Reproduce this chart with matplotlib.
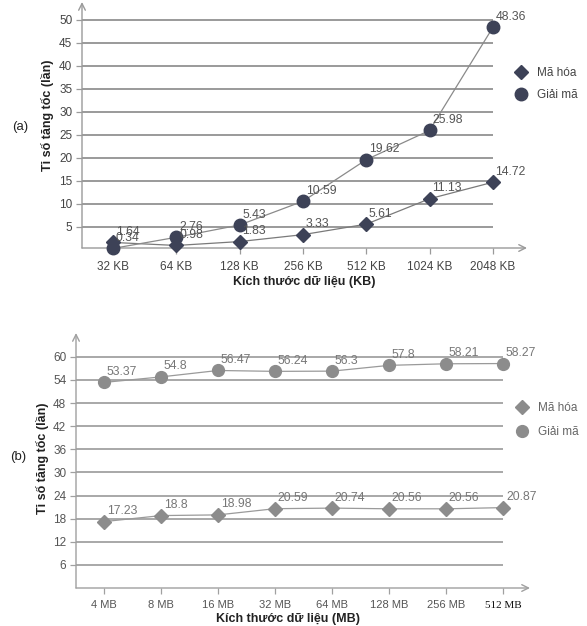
import matplotlib
matplotlib.use("Agg")
import matplotlib.pyplot as plt
from matplotlib.lines import Line2D

# ---------------- data ----------------
cats_a = ["32 KB", "64 KB", "128 KB", "256 KB", "512 KB", "1024 KB", "2048 KB"]
enc_a = [1.64, 0.98, 1.83, 3.33, 5.61, 11.13, 14.72]
dec_a = [0.34, 2.76, 5.43, 10.59, 19.62, 25.98, 48.36]
yt_a = [5, 10, 15, 20, 25, 30, 35, 40, 45, 50]

cats_b = ["4 MB", "8 MB", "16 MB", "32 MB", "64 MB", "128 MB", "256 MB", "512 MB"]
enc_b = [17.23, 18.8, 18.98, 20.59, 20.74, 20.56, 20.56, 20.87]
dec_b = [53.37, 54.8, 56.47, 56.24, 56.3, 57.8, 58.21, 58.27]
yt_b = [6, 12, 18, 24, 30, 36, 42, 48, 54, 60]

ylabel = "Tỉ số tăng tốc (lần)"
xlabel_a = "Kích thước dữ liệu (KB)"
xlabel_b = "Kích thước dữ liệu (MB)"
leg_enc = "Mã hóa"
leg_dec = "Giải mã"

# ---------------- style ----------------
plt.rcParams['font.family'] = ['Liberation Sans', 'DejaVu Sans']
W, H = 587, 626
fig = plt.figure(figsize=(W / 100, H / 100), dpi=100)


def px_axes(left, top, right, bottom):
    return fig.add_axes([left / W, 1 - bottom / H, (right - left) / W, (bottom - top) / H])


def style_axes(ax, cats, yticks, xlim, ylim, grid_col, axis_col, tick_col, xpad, xsize):
    ax.set_xlim(*xlim)
    ax.set_ylim(*ylim)
    for s in ax.spines.values():
        s.set_visible(False)
    ax.patch.set_alpha(0)
    n = len(cats)
    ax.hlines(yticks, xlim[0], n - 1, colors=grid_col, lw=1.4, zorder=1)
    ax.set_xticks(range(n))
    ax.set_xticklabels(cats)
    ax.set_yticks(yticks)
    ax.tick_params(axis='both', length=4, width=0.9, color=axis_col,
                   labelsize=8.5, labelcolor=tick_col, pad=3)
    ax.tick_params(axis='x', pad=xpad, labelsize=xsize)
    # axes lines with open arrowheads
    ax.annotate("", xy=(1, 0), xytext=(0, 0), xycoords='axes fraction',
                arrowprops=dict(arrowstyle='->', color=axis_col, lw=1.0,
                                shrinkA=0, shrinkB=0, mutation_scale=12),
                annotation_clip=False)
    ax.annotate("", xy=(0, 1), xytext=(0, 0), xycoords='axes fraction',
                arrowprops=dict(arrowstyle='->', color=axis_col, lw=1.0,
                                shrinkA=0, shrinkB=0, mutation_scale=12),
                annotation_clip=False)


def labels(ax, vals, col):
    for i, v in enumerate(vals):
        ax.annotate(f"{v:g}", (i, v), xytext=(2, 7.5), textcoords='offset points',
                    ha='left', va='center', fontsize=8.8, color=col, zorder=6)


# ---------------- panel (a) ----------------
ax1 = px_axes(82, 2, 527, 248)
style_axes(ax1, cats_a, yt_a, (-0.49, 6.54), (0.43, 53.9),
           '#9a9a9a', '#9a9a9a', '#444444', 5, 8.5)
mk_a = '#3d4257'
ax1.plot(range(len(enc_a)), enc_a, color='#7a7a7a', lw=0.9, marker='D',
         ms=7, mfc=mk_a, mec=mk_a, zorder=4, clip_on=False)
ax1.plot(range(len(dec_a)), dec_a, color='#8a8a8a', lw=0.9, marker='o',
         ms=9, mfc=mk_a, mec=mk_a, zorder=4, clip_on=False)
labels(ax1, enc_a, '#555555')
labels(ax1, dec_a, '#555555')

fig.text(304 / W, 1 - 282 / H, xlabel_a, ha='center', va='center',
         fontsize=9, fontweight='bold', color='#222222')
fig.text(47 / W, 1 - 115 / H, ylabel, ha='center', va='center', rotation=90,
         fontsize=9, fontweight='bold', color='#222222')
fig.text(20 / W, 1 - 127 / H, "(a)", ha='center', va='center', fontsize=9.5,
         color='#222222')

h_a = [Line2D([], [], ls='none', marker='D', ms=7, mfc=mk_a, mec=mk_a),
       Line2D([], [], ls='none', marker='o', ms=9, mfc=mk_a, mec=mk_a)]
fig.legend(h_a, [leg_enc, leg_dec], loc='center left',
           bbox_to_anchor=(510 / W, 1 - 84 / H), frameon=False, fontsize=8.5,
           handlelength=0.8, handletextpad=1.0, labelspacing=0.85,
           labelcolor='#444444', borderpad=0)

# ---------------- panel (b) ----------------
ax2 = px_axes(76, 333, 530, 588)
style_axes(ax2, cats_b, yt_b, (-0.49, 7.47), (0, 66.2),
           '#a8a8a8', '#a0a0a0', '#555555', 5, 8)
mk_b = '#8c8c8c'
ax2.plot(range(len(enc_b)), enc_b, color='#9a9a9a', lw=0.9, marker='D',
         ms=7, mfc=mk_b, mec=mk_b, zorder=4, clip_on=False)
ax2.plot(range(len(dec_b)), dec_b, color='#9a9a9a', lw=0.9, marker='o',
         ms=8.5, mfc=mk_b, mec=mk_b, zorder=4, clip_on=False)
labels(ax2, enc_b, '#777777')
labels(ax2, dec_b, '#777777')
lastlab = ax2.get_xticklabels()[-1]
lastlab.set_fontfamily('Liberation Serif')
lastlab.set_color('#111111')

fig.text(288 / W, 1 - 619 / H, xlabel_b, ha='center', va='center',
         fontsize=9, fontweight='bold', color='#222222')
fig.text(42 / W, 1 - 458 / H, ylabel, ha='center', va='center', rotation=90,
         fontsize=9, fontweight='bold', color='#222222')
fig.text(18 / W, 1 - 457 / H, "(b)", ha='center', va='center', fontsize=9.5,
         color='#222222')

h_b = [Line2D([], [], ls='none', marker='D', ms=7, mfc=mk_b, mec=mk_b),
       Line2D([], [], ls='none', marker='o', ms=8.5, mfc=mk_b, mec=mk_b)]
fig.legend(h_b, [leg_enc, leg_dec], loc='center left',
           bbox_to_anchor=(511 / W, 1 - 420 / H), frameon=False, fontsize=8.5,
           handlelength=0.8, handletextpad=1.0, labelspacing=1.0,
           labelcolor='#666666', borderpad=0)

fig.savefig("out.png", dpi=100)
